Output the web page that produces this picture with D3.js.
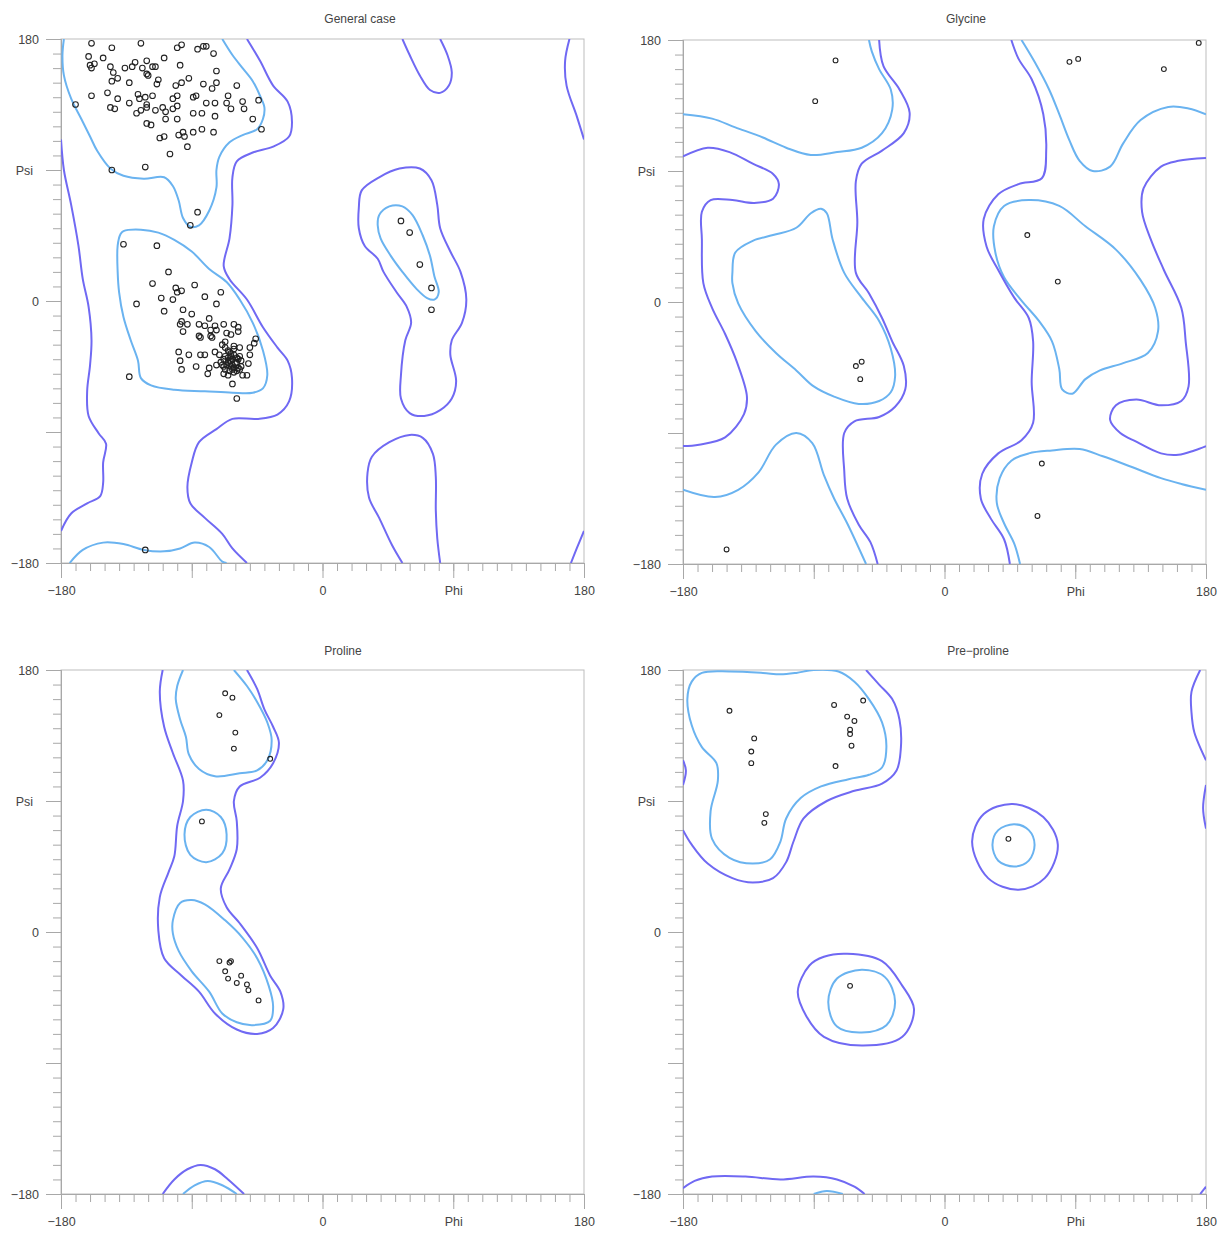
<!DOCTYPE html>
<html>
<head>
<meta charset="utf-8">
<script src="https://cdn.jsdelivr.net/npm/d3@7"></script>
<style>
  body { margin: 0; background: #fff; }
  svg { font-family: "Liberation Sans", Arial, Helvetica, sans-serif; }
</style>
</head>
<body>
<svg id="chart" width="1223" height="1233"></svg>
<script>
// ---- data (phi, psi in degrees) ----
const panelTitles = ["General case", "Glycine", "Proline", "Pre\u2212proline"];
const axisTicks = d3.range(-180, 181, 10);
const majorTicks = [-180, -90, 0, 90, 180];
const xTickLabels = { "-180": "\u2212180", "0": "0", "90": "Phi", "180": "180" };
const yTickLabels = { "-180": "\u2212180", "0": "0", "90": "Psi", "180": "180" };

const generalPoints = [
  [-159,177],[-145,174],[-125,177],[-100,174],[-97,176],[-86,173],[-82,175],[-80,175],[-75,170],
  [-161,168],[-151,167],[-109,167],[-160,162],[-157,163],[-159,160],[-146,161],[-136,160],[-131,161],
  [-129,164],[-124,160],[-121,165],[-117,161],[-115,161],[-98,162],[-73,158],[-144,157],[-141,153],
  [-145,151],[-133,150],[-121,156],[-120,155],[-113,152],[-114,149],[-101,148],[-97,150],[-92,153],
  [-82,149],[-76,146],[-73,150],[-59,148],[-159,141],[-148,143],[-141,139],[-133,136],[-127,142],
  [-126,139],[-122,140],[-117,141],[-121,135],[-100,141],[-103,139],[-89,140],[-87,141],[-80,136],
  [-74,136],[-65,141],[-55,137],[-44,138],[-66,136],[-63,132],[-54,132],[-170,135],[-146,133],
  [-143,132],[-128,129],[-125,131],[-121,133],[-115,131],[-110,133],[-108,130],[-103,132],[-100,134],
  [-89,129],[-83,129],[-74,127],[-108,125],[-100,125],[-48,125],[-121,122],[-118,121],[-112,112],
  [-109,113],[-99,114],[-96,116],[-95,113],[-89,116],[-83,118],[-75,116],[-93,106],[-105,101],
  [-42,118],[-145,90],[-122,92],[-86,61],[-91,52],
  [-137,39],[-114,38],[-106,20],[-117,12],[-101,9],[-100,6],[-97,7],[-88,11],[-81,3],[-70,6],
  [-128,-2],[-111,2],[-103,1],[-73,-2],[-96,-6],[-109,-7],[-90,-9],[-78,-12],[-97,-14],[-98,-16],
  [-93,-16],[-85,-16],[-81,-17],[-74,-17],[-68,-16],[-61,-16],[-58,-18],[-96,-21],[-77,-20],[-73,-20],
  [-66,-22],[-63,-23],[-58,-21],[-85,-24],[-84,-25],[-77,-24],[-76,-25],[-46,-26],[-47,-29],[-69,-30],
  [-67,-28],[-61,-31],[-57,-32],[-50,-32],[-99,-35],[-92,-37],[-84,-37],[-81,-37],[-74,-35],[-71,-37],
  [-64,-35],[-67,-38],[-98,-41],[-87,-45],[-78,-46],[-73,-44],[-70,-42],[-68,-45],[-64,-41],[-62,-44],
  [-59,-39],[-56,-41],[-51,-43],[-50,-37],[-57,-47],[-97,-47],[-79,-50],[-68,-50],[-65,-51],[-61,-49],
  [-55,-51],[-52,-51],[-62,-57],[-59,-67],[-133,-52],
  [-65,-39],[-63,-38],[-61,-37],[-65,-42],[-63,-45],[-59,-42],[-62,-47],[-67,-47],[-58,-46],[-64,-48],
  [-68,-40],[-57,-38],[-61,-33],[-69,-44],[-63,-41],[-59,-48],[-67,-32],[-56,-45],[-62,-40],[-65,-34],
  [-60,-43],[-66,-44],[-63,-36],[-58,-40],[-61,-46],[-64,-43],
  [-122,-171],[54,55],[60,47],[67,25],[75,9],[75,-6]
];
const glycinePoints = [
  [-75,166],[-89,138],[-150,-170],[-57,-41],[-61,-44],[-58,-53],
  [86,165],[92,167],[151,160],[175,178],[57,46],[78,14],[67,-111],[64,-147]
];
const prolinePoints = [
  [-67,164],[-62,161],[-71,149],[-60,137],[-61,126],[-36,119],[-83,76],
  [-71,-20],[-64,-21],[-63,-20],[-67,-27],[-65,-32],[-56,-30],[-59,-35],[-52,-36],[-51,-40],[-44,-47]
];
const preProlinePoints = [
  [-148,152],[-131,133],[-133,124],[-133,116],[-123,81],[-124,75],[-76,156],[-56,159],[-67,148],
  [-62,145],[-65,139],[-65,136],[-64,128],[-75,114],[44,64],[-65,-37]
];

// contour lines: level "favored" (inner) / "allowed" (outer)
const generalContours = [
  { level: "favored", closed: false, pts: [[-178,180],[-179,169],[-178,155],[-173,139],[-166,125],[-160,113],[-155,103],[-146,91],[-137,86],[-123,84],[-109,85],[-103,79],[-99,69],[-96,57],[-91,51],[-85,52],[-78,62],[-73,78],[-73,90],[-71,99],[-64,109],[-55,114],[-45,118],[-41,125],[-40,133],[-43,141],[-48,151],[-55,160],[-62,169],[-69,180]] },
  { level: "favored", closed: false, pts: [[-174,-180],[-165,-171],[-151,-166],[-137,-167],[-123,-171],[-109,-172],[-98,-170],[-88,-166],[-78,-169],[-69,-179],[-66,-180]] },
  { level: "favored", closed: true, pts: [[-137,48],[-125,49],[-113,47],[-102,42],[-90,34],[-78,22],[-66,13],[-57,1],[-48,-15],[-41,-34],[-38,-51],[-41,-60],[-48,-63],[-62,-63],[-81,-62],[-102,-61],[-118,-58],[-125,-53],[-127,-41],[-132,-27],[-137,-11],[-140,6],[-141,20],[-141,38],[-139,46]] },
  { level: "favored", closed: true, pts: [[39,59],[46,65],[55,65],[62,59],[69,45],[74,31],[77,17],[80,6],[77,1],[72,2],[65,8],[55,20],[47,31],[40,43],[38,52]] },
  { level: "allowed", closed: false, pts: [[-52,180],[-43,165],[-34,148],[-24,137],[-21,123],[-23,113],[-34,106],[-48,102],[-59,96],[-62,85],[-62,66],[-64,43],[-68,24],[-64,15],[-52,1],[-41,-18],[-31,-32],[-24,-41],[-21,-53],[-23,-69],[-31,-78],[-45,-81],[-62,-81],[-73,-88],[-85,-97],[-90,-111],[-93,-128],[-91,-139],[-81,-149],[-69,-160],[-62,-170],[-52,-180]] },
  { level: "allowed", closed: false, pts: [[-180,111],[-178,90],[-173,66],[-168,38],[-165,15],[-161,-4],[-159,-27],[-160,-44],[-162,-62],[-161,-79],[-154,-91],[-149,-98],[-151,-111],[-151,-125],[-153,-134],[-162,-139],[-173,-146],[-180,-158]] },
  { level: "allowed", closed: false, pts: [[180,111],[175,127],[168,148],[167,165],[170,180]] },
  { level: "allowed", closed: false, pts: [[171,-180],[175,-170],[180,-158]] },
  { level: "allowed", closed: false, pts: [[55,180],[60,169],[67,155],[74,145],[81,143],[87,148],[89,157],[86,169],[81,180]] },
  { level: "allowed", closed: true, pts: [[27,76],[39,85],[53,91],[67,91],[75,83],[79,66],[81,50],[88,34],[95,20],[99,1],[96,-15],[89,-27],[88,-37],[92,-55],[89,-67],[81,-75],[70,-79],[60,-77],[54,-67],[54,-51],[57,-27],[61,-15],[58,-4],[51,6],[42,20],[38,29],[29,38],[25,50],[25,64]] },
  { level: "allowed", closed: false, pts: [[55,-180],[48,-168],[39,-149],[32,-135],[31,-118],[34,-107],[46,-97],[60,-92],[69,-94],[76,-105],[78,-121],[78,-144],[79,-163],[81,-180]] }
];
const glycineContours = [
  { level: "favored", closed: false, pts: [[-180,129],[-160,126],[-144,120],[-125,113],[-109,106],[-92,101],[-74,103],[-57,106],[-43,116],[-36,132],[-37,146],[-45,160],[-50,172],[-52,180]] },
  { level: "favored", closed: false, pts: [[-180,-129],[-158,-134],[-142,-129],[-128,-117],[-116,-98],[-102,-90],[-91,-97],[-83,-119],[-76,-135],[-67,-152],[-54,-180]] },
  { level: "favored", closed: false, pts: [[53,180],[62,165],[72,146],[79,129],[86,111],[93,97],[102,90],[114,93],[123,109],[135,125],[154,134],[168,133],[180,129]] },
  { level: "favored", closed: false, pts: [[180,-129],[163,-125],[149,-121],[128,-113],[109,-106],[93,-101],[74,-102],[58,-104],[46,-109],[38,-121],[36,-138],[41,-152],[48,-166],[52,-180]] },
  { level: "favored", closed: true, pts: [[-146,20],[-144,34],[-132,42],[-118,46],[-102,51],[-92,61],[-85,64],[-81,61],[-77,43],[-69,20],[-57,3],[-45,-13],[-37,-32],[-34,-51],[-37,-62],[-45,-68],[-59,-70],[-76,-65],[-90,-58],[-102,-47],[-116,-35],[-130,-20],[-142,-1],[-146,13]] },
  { level: "favored", closed: true, pts: [[34,52],[41,66],[58,70],[79,66],[97,52],[118,36],[135,15],[145,-4],[147,-20],[140,-35],[123,-42],[107,-47],[97,-53],[88,-63],[81,-60],[79,-46],[74,-27],[65,-13],[53,1],[41,17],[35,34]] },
  { level: "allowed", closed: false, pts: [[-180,100],[-163,106],[-148,103],[-132,95],[-118,88],[-114,81],[-118,71],[-131,68],[-146,70],[-161,70],[-167,62],[-167,43],[-166,13],[-160,-4],[-151,-22],[-143,-41],[-136,-65],[-138,-77],[-151,-93],[-169,-98],[-180,-99]] },
  { level: "allowed", closed: false, pts: [[-45,180],[-42,162],[-31,146],[-24,130],[-28,116],[-43,104],[-57,95],[-61,83],[-60,55],[-61,20],[-52,6],[-43,-11],[-36,-27],[-28,-44],[-27,-60],[-34,-72],[-45,-79],[-62,-82],[-69,-90],[-69,-116],[-67,-135],[-59,-153],[-51,-165],[-46,-180]] },
  { level: "allowed", closed: false, pts: [[46,180],[51,167],[60,153],[68,129],[70,104],[67,85],[51,81],[37,74],[27,57],[29,38],[37,22],[48,3],[58,-11],[61,-27],[60,-55],[61,-83],[53,-95],[37,-104],[26,-118],[25,-135],[32,-149],[41,-163],[45,-180]] },
  { level: "allowed", closed: false, pts: [[180,99],[161,97],[149,93],[137,78],[136,62],[142,43],[151,22],[163,-4],[166,-27],[168,-58],[163,-68],[149,-71],[132,-67],[118,-71],[114,-81],[121,-90],[132,-96],[149,-104],[161,-105],[172,-102],[180,-99]] }
];
const prolineContours = [
  { level: "favored", closed: false, pts: [[-96,180],[-100,169],[-101,160],[-98,146],[-94,134],[-92,122],[-85,112],[-74,107],[-57,109],[-45,111],[-38,118],[-35,132],[-38,144],[-45,158],[-52,169],[-61,180]] },
  { level: "favored", closed: false, pts: [[-96,-180],[-88,-174],[-79,-171],[-69,-174],[-59,-180]] },
  { level: "favored", closed: true, pts: [[-80,84],[-70,79],[-66,67],[-69,54],[-80,48],[-91,53],[-95,67],[-91,79]] },
  { level: "favored", closed: true, pts: [[-103,8],[-98,20],[-90,22],[-81,19],[-67,8],[-55,-4],[-45,-18],[-37,-37],[-34,-51],[-36,-61],[-48,-64],[-59,-62],[-69,-56],[-78,-41],[-90,-27],[-99,-13],[-103,-1]] },
  { level: "allowed", closed: false, pts: [[-110,180],[-112,165],[-109,141],[-103,123],[-96,104],[-96,90],[-100,73],[-102,52],[-106,41],[-112,24],[-113,1],[-109,-18],[-97,-30],[-85,-41],[-74,-56],[-59,-67],[-45,-70],[-34,-66],[-27,-53],[-29,-41],[-36,-30],[-45,-11],[-57,6],[-66,17],[-70,30],[-64,43],[-59,57],[-59,76],[-61,90],[-57,100],[-43,106],[-34,116],[-30,130],[-34,141],[-40,153],[-45,167],[-52,180]] },
  { level: "allowed", closed: false, pts: [[-110,-180],[-102,-170],[-93,-163],[-84,-160],[-74,-163],[-65,-170],[-54,-180]] }
];
const preProlineContours = [
  { level: "favored", closed: true, pts: [[-90,180],[-73,179],[-62,172],[-52,160],[-43,144],[-40,127],[-43,113],[-52,108],[-66,105],[-85,100],[-99,92],[-109,78],[-113,62],[-120,50],[-132,47],[-148,51],[-160,64],[-161,83],[-156,104],[-157,116],[-167,127],[-174,142],[-177,160],[-174,172],[-167,178],[-148,179],[-125,178],[-113,177],[-102,178]] },
  { level: "favored", closed: true, pts: [[48,74],[58,70],[62,60],[58,49],[48,45],[37,49],[33,60],[37,70]] },
  { level: "favored", closed: true, pts: [[-57,-26],[-41,-31],[-34,-48],[-40,-64],[-57,-69],[-74,-65],[-80,-48],[-74,-32]] },
  { level: "favored", closed: false, pts: [[-90,-180],[-81,-178],[-70,-180]] },
  { level: "allowed", closed: false, pts: [[-54,180],[-45,170],[-36,160],[-31,146],[-30,127],[-33,111],[-43,102],[-62,97],[-81,90],[-97,78],[-104,62],[-109,48],[-118,37],[-132,34],[-146,37],[-163,47],[-174,60],[-180,70]] },
  { level: "allowed", closed: false, pts: [[-180,118],[-178,111],[-180,101]] },
  { level: "allowed", closed: false, pts: [[176,180],[170,165],[170,151],[172,137],[180,118]] },
  { level: "allowed", closed: false, pts: [[180,101],[178,85],[180,71]] },
  { level: "allowed", closed: true, pts: [[47,88],[68,79],[78,60],[69,37],[51,29],[30,37],[19,62],[27,81]] },
  { level: "allowed", closed: true, pts: [[-67,-15],[-43,-20],[-29,-37],[-21,-53],[-29,-72],[-57,-78],[-83,-72],[-95,-58],[-101,-41],[-93,-23],[-83,-17]] },
  { level: "allowed", closed: false, pts: [[-180,-176],[-172,-171],[-160,-168],[-137,-168],[-113,-170],[-90,-168],[-74,-170],[-62,-175],[-55,-180]] },
  { level: "allowed", closed: false, pts: [[176,-180],[180,-175]] }
];

// ---- layout ----
const svg = d3.select("#chart");
const size = 523;
const levelColor = { favored: "#6ab3f0", allowed: "#7069f3" };

const panels = [
  { title: panelTitles[0], pts: generalPoints, contours: generalContours, x0: 61, y0: 39, tx: 360, ty: 23, r: 2.8 },
  { title: panelTitles[1], pts: glycinePoints, contours: glycineContours, x0: 683, y0: 40, tx: 966, ty: 23, r: 2.4 },
  { title: panelTitles[2], pts: prolinePoints, contours: prolineContours, x0: 61, y0: 670, tx: 343, ty: 655, r: 2.4 },
  { title: panelTitles[3], pts: preProlinePoints, contours: preProlineContours, x0: 683, y0: 670, tx: 978, ty: 655, r: 2.4 }
];

panels.forEach((p, i) => {
  const x = d3.scaleLinear().domain([-180, 180]).range([p.x0, p.x0 + size]);
  const y = d3.scaleLinear().domain([-180, 180]).range([p.y0 + size + 1, p.y0]);
  const g = svg.append("g");

  // title
  g.append("text")
    .attr("x", p.tx).attr("y", p.ty)
    .attr("text-anchor", "middle")
    .style("font-size", "12px")
    .style("fill", "#444")
    .text(p.title);

  // frame
  g.append("rect")
    .attr("x", x(-180)).attr("y", y(180))
    .attr("width", x(180) - x(-180)).attr("height", y(-180) - y(180))
    .attr("fill", "none")
    .attr("stroke", "#bdbdbd");

  // minor ticks
  const minorY = g.append("g").attr("transform", `translate(${x(-180)},0)`)
    .call(d3.axisLeft(y).tickValues(axisTicks).tickSize(8).tickFormat(""));
  const minorX = g.append("g").attr("transform", `translate(0,${y(-180)})`)
    .call(d3.axisBottom(x).tickValues(axisTicks).tickSize(8).tickFormat(""));

  // major ticks + labels
  const majY = g.append("g").attr("transform", `translate(${x(-180)},0)`)
    .call(d3.axisLeft(y).tickValues(majorTicks).tickSize(15).tickPadding(7)
      .tickFormat(d => yTickLabels[d] || ""));
  const majX = g.append("g").attr("transform", `translate(0,${y(-180)})`)
    .call(d3.axisBottom(x).tickValues(majorTicks).tickSize(15).tickPadding(8)
      .tickFormat(d => xTickLabels[d] || ""));

  [minorY, minorX, majY, majX].forEach(a => {
    a.select(".domain").attr("stroke", "#a8a8a8");
    a.selectAll(".tick line").attr("stroke", "#a8a8a8");
    a.selectAll("text").style("font-size", "12.5px").style("fill", "#444")
      .style("font-family", '"Liberation Sans", Arial, sans-serif');
  });
  majY.selectAll(".tick").filter(d => d === 90).select("text").attr("x", -28);

  // clip
  const clipId = "clip" + i;
  g.append("clipPath").attr("id", clipId)
    .append("rect")
    .attr("x", x(-180)).attr("y", y(180))
    .attr("width", x(180) - x(-180)).attr("height", y(-180) - y(180));

  const plot = g.append("g").attr("clip-path", `url(#${clipId})`);

  const openLine = d3.line().x(d => x(d[0])).y(d => y(d[1])).curve(d3.curveCatmullRom.alpha(0.5));
  const closedLine = d3.line().x(d => x(d[0])).y(d => y(d[1])).curve(d3.curveCatmullRomClosed.alpha(0.5));

  plot.selectAll("path.contour")
    .data(p.contours)
    .enter()
    .append("path")
    .attr("class", "contour")
    .attr("d", c => (c.closed ? closedLine : openLine)(c.pts))
    .attr("fill", "none")
    .attr("stroke", c => levelColor[c.level])
    .attr("stroke-width", 2);

  g.selectAll("circle.pt")
    .data(p.pts)
    .enter()
    .append("circle")
    .attr("class", "pt")
    .attr("cx", d => x(d[0]))
    .attr("cy", d => y(d[1]))
    .attr("r", p.r)
    .attr("fill", "none")
    .attr("stroke", "#222")
    .attr("stroke-width", 1.1);
});
</script>
</body>
</html>
